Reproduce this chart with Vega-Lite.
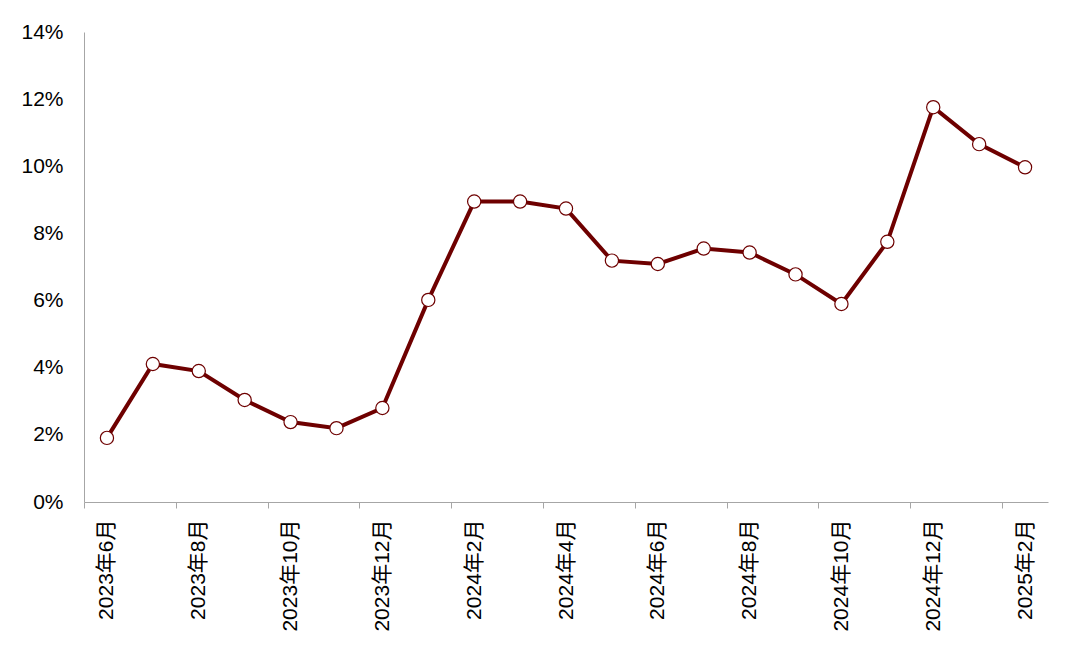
{
  "$schema": "https://vega.github.io/schema/vega-lite/v6.json",
  "description": "Monthly rate, 2023-06 to 2025-02.",
  "width": 964,
  "height": 470,
  "autosize": {"type": "none"},
  "padding": {"left": 84, "top": 32, "right": 32, "bottom": 154},
  "config": {
    "font": "Liberation Sans, Noto Sans CJK SC",
    "view": {"stroke": null}
  },
  "data": {
    "values": [
      {"month": "2023年6月", "value": 0.0191},
      {"month": "2023年7月", "value": 0.0411},
      {"month": "2023年8月", "value": 0.0390},
      {"month": "2023年9月", "value": 0.0304},
      {"month": "2023年10月", "value": 0.0238},
      {"month": "2023年11月", "value": 0.0220},
      {"month": "2023年12月", "value": 0.0280},
      {"month": "2024年1月", "value": 0.0602},
      {"month": "2024年2月", "value": 0.0895},
      {"month": "2024年3月", "value": 0.0895},
      {"month": "2024年4月", "value": 0.0874},
      {"month": "2024年5月", "value": 0.0719},
      {"month": "2024年6月", "value": 0.0709},
      {"month": "2024年7月", "value": 0.0755},
      {"month": "2024年8月", "value": 0.0743},
      {"month": "2024年9月", "value": 0.0678},
      {"month": "2024年10月", "value": 0.0590},
      {"month": "2024年11月", "value": 0.0775},
      {"month": "2024年12月", "value": 0.1176},
      {"month": "2025年1月", "value": 0.1066},
      {"month": "2025年2月", "value": 0.0997}
    ]
  },
  "encoding": {
    "x": {
      "field": "month",
      "type": "ordinal",
      "sort": null,
      "scale": {"type": "band", "paddingInner": 0, "paddingOuter": 0},
      "axis": {
        "title": null,
        "values": ["2023年6月", "2023年8月", "2023年10月", "2023年12月", "2024年2月", "2024年4月", "2024年6月", "2024年8月", "2024年10月", "2024年12月", "2025年2月"],
        "tickOffset": -22.95,
        "labelOffset": 22.95,
        "tickSize": 6,
        "tickColor": "#a6a6a6",
        "domainColor": "#a6a6a6",
        "labelAngle": -90,
        "labelAlign": "right",
        "labelBaseline": "middle",
        "labelFontSize": 21,
        "labelColor": "#000000",
        "labelPadding": 11,
        "grid": false
      }
    },
    "y": {
      "field": "value",
      "type": "quantitative",
      "scale": {"domain": [0, 0.14], "nice": false},
      "axis": {
        "title": null,
        "values": [0, 0.02, 0.04, 0.06, 0.08, 0.1, 0.12, 0.14],
        "format": ".0%",
        "ticks": false,
        "grid": false,
        "domainColor": "#a6a6a6",
        "labelFontSize": 21,
        "labelColor": "#000000",
        "labelPadding": 21
      }
    }
  },
  "layer": [
    {"mark": {"type": "line", "color": "#6e0000", "strokeWidth": 4}},
    {
      "mark": {
        "type": "point",
        "shape": "circle",
        "filled": true,
        "fill": "#ffffff",
        "stroke": "#6e0000",
        "strokeWidth": 1.2,
        "size": 175,
        "opacity": 1
      }
    }
  ]
}
